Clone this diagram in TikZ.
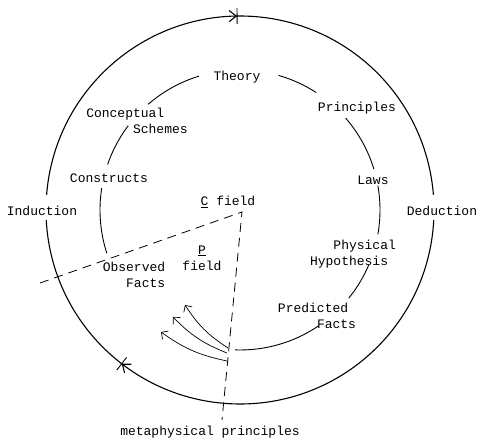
\documentclass[tikz,border=0pt]{standalone}
\usepackage{fontspec}
\setmonofont{Liberation Mono}
\usetikzlibrary{arrows.meta, decorations.markings}

\begin{document}
\begin{tikzpicture}[
        x=1pt, y=1pt,
        lbl/.style = {font=\ttfamily\fontsize{13}{16}\selectfont, inner sep=1pt},
        outerring/.style = {line width=1.1pt},
        stagearc/.style = {line width=0.9pt},
        dashline/.style = {dash pattern=on 9pt off 6pt, line width=0.8pt},
        feed/.style = {-{Straight Barb[length=5pt, width=10pt]}, line width=0.7pt},
        dirmark/.style = {postaction={decorate}, decoration={markings, mark=at position #1 with {\arrow{Straight Barb[length=7pt, width=11pt]}\draw[line width=0.9pt] (0,-8pt) -- (0,8pt);}}},
    ]
        \useasboundingbox (0,0) rectangle (480,439);
        \coordinate (o) at (240,229);
        \def\ro{194}
        \def\ri{140}
        % outer ring, broken at the two side labels
        \draw[outerring, dirmark=0.495] ([shift={(175.5:\ro)}]o) arc (175.5:4.5:\ro);
        \draw[outerring, dirmark=0.716] ([shift={(-3:\ro)}]o) arc (-3:-177:\ro);
        \node[lbl] (induct) at (42,228) {Induction};
        \node[lbl] (deduct) at (442,228) {Deduction};
        % inner cycle
        \node[lbl] (theory) at (237,362) {Theory};
        \node[lbl, align=left] (concept) at (137,318) {Conceptual\\\hphantom{Concep}Schemes};
        \node[lbl] (constr) at (109,261) {Constructs};
        \node[lbl, align=right] (observ) at (134,164) {Observed\\Facts};
        \node[lbl] (princ) at (357,331) {Principles};
        \node[lbl] (laws) at (373,259) {Laws};
        \node[lbl, align=left] (physhyp) at (353,185) {\hphantom{Hyp}Physical\\Hypothesis};
        \node[lbl, align=left] (predfacts) at (317,123) {Predicted\\\hphantom{Predi}Facts};
        \draw[stagearc] ([shift={(74:\ri)}]o) arc (74:57:\ri);
        \draw[stagearc] ([shift={(41:\ri)}]o) arc (41:17:\ri);
        \draw[stagearc] ([shift={(10:\ri)}]o) arc (10:-10:\ri);
        \draw[stagearc] ([shift={(-23:\ri)}]o) arc (-23:-39:\ri);
        \draw[stagearc] ([shift={(-56:\ri)}]o) arc (-56:-92:\ri);
        \draw[stagearc] ([shift={(198:\ri)}]o) arc (198:171:\ri);
        \draw[stagearc] ([shift={(161:\ri)}]o) arc (161:143:\ri);
        \draw[stagearc] ([shift={(131:\ri)}]o) arc (131:107:\ri);
        % fields
        \node[lbl] (cfield) at (228,237) {\underline{C} field};
        \node[lbl, align=center] (pfield) at (202,181) {\underline{P}\\field};
        \node[lbl] (meta) at (210,7) {metaphysical principles};
        \coordinate (apex) at (242,227);
        \coordinate (leftend) at (40,156);
        \coordinate (lowend) at (222,19);
        \draw[dashline] (leftend) -- (apex) -- (lowend);
        % feedback arrows
        \coordinate (s1) at (228,91);
        \coordinate (s2) at (227,86);
        \coordinate (s3) at (227,78);
        \coordinate (e1) at (185,134);
        \coordinate (e2) at (173,122);
        \coordinate (e3) at (161,107);
        \draw[feed] (s1) to[bend left=12] (e1);
        \draw[feed] (s2) to[bend left=12] (e2);
        \draw[feed] (s3) to[bend left=12] (e3);
    \end{tikzpicture}
\end{document}
